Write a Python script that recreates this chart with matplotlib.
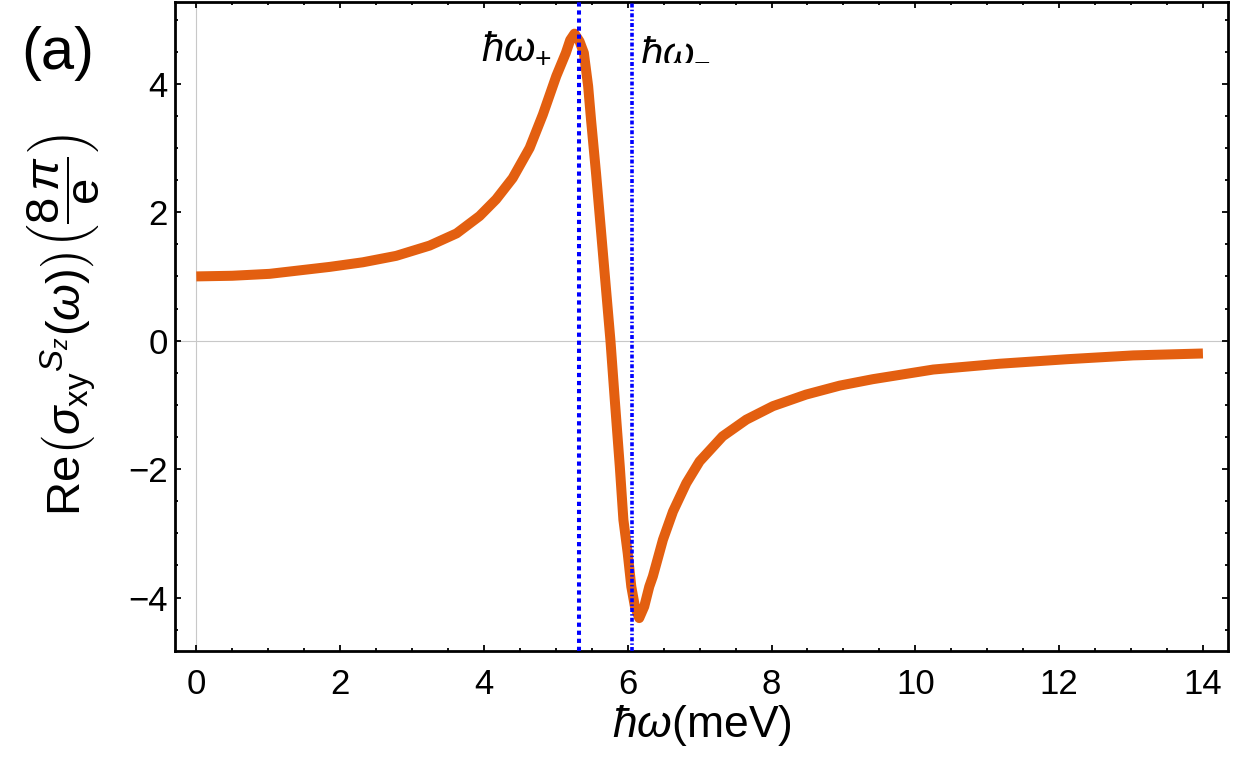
import matplotlib
matplotlib.use("Agg")
import matplotlib.pyplot as plt
from matplotlib.ticker import MultipleLocator

plt.rcParams['font.family'] = ['Liberation Sans', 'DejaVu Sans']
plt.rcParams['mathtext.fontset'] = 'custom'
plt.rcParams['mathtext.rm'] = 'Liberation Sans'
plt.rcParams['mathtext.it'] = 'Liberation Sans:italic'

# curve
w = [0, 0.5, 1.02, 1.854, 2.317, 2.78, 3.245, 3.62, 3.94, 4.17, 4.40, 4.636,
     4.82, 5.007, 5.14, 5.20, 5.26, 5.33, 5.39, 5.45, 5.49, 5.56, 5.66, 5.76,
     5.82, 5.89, 5.94, 6.00, 6.05, 6.10, 6.16, 6.23, 6.30, 6.35, 6.49, 6.63,
     6.815, 7.0, 7.32, 7.65, 8.02, 8.48, 8.95, 9.41, 10.25, 11.17, 12.10, 13.03, 14.0]
sig = [1.00, 1.01, 1.04, 1.148, 1.22, 1.32, 1.48, 1.67, 1.94, 2.20, 2.53, 3.00,
       3.52, 4.12, 4.48, 4.68, 4.78, 4.66, 4.48, 3.96, 3.44, 2.60, 1.30, 0.0,
       -0.92, -1.96, -2.79, -3.31, -3.83, -4.14, -4.32, -4.14, -3.83, -3.67, -3.10, -2.66,
       -2.22, -1.88, -1.49, -1.23, -1.02, -0.84, -0.70, -0.60, -0.45, -0.36, -0.29, -0.23, -0.20]

w_plus = 5.32
w_minus = 6.06

fig = plt.figure(figsize=(12.57, 7.63), dpi=100)
ax = fig.add_axes([0.139, 0.147, 0.838, 0.851])

ax.axhline(0, color='#c8c8c8', lw=0.8, zorder=0)
ax.axvline(0, color='#c8c8c8', lw=0.8, zorder=0)

ax.plot(w, sig, color='#e35f10', lw=7.2, solid_joinstyle='round', solid_capstyle='butt', zorder=3)

ax.axvline(w_plus, color='#0000ff', lw=2.9, ls=(0, (1.05, 0.95)), dash_capstyle='butt', zorder=4)
ax.axvline(w_minus, color='#0000ff', lw=2.6, ls=(0, (1.1, 0.6, 0.4, 0.6)), dash_capstyle='butt', zorder=4)

ax.set_xlim(-0.3, 14.35)
ax.set_ylim(-4.83, 5.28)
ax.xaxis.set_major_locator(MultipleLocator(2))
ax.xaxis.set_minor_locator(MultipleLocator(0.5))
ax.yaxis.set_major_locator(MultipleLocator(2))
ax.yaxis.set_minor_locator(MultipleLocator(0.5))
ax.tick_params(which='both', direction='in', top=True, right=True, width=1.3, labelsize=25)
ax.tick_params(which='major', length=4.5)
ax.tick_params(which='minor', length=2.5)
ax.tick_params(axis='x', pad=12)
ax.tick_params(axis='y', pad=5)
ax.set_yticks([-4, -2, 0, 2, 4])
ax.set_yticklabels(['\u22124', '\u22122', '0', '2', '4'])
for s in ax.spines.values():
    s.set_linewidth(2)

ax.text(4.95, 4.25, r'$\hbar\omega_{+}$', fontsize=29, ha='right', va='bottom')
ax.text(6.17, 4.25, r'$\hbar\omega_{-}$', fontsize=29, ha='left', va='bottom')

ax.set_xlabel(r'$\hbar\omega$(meV)', fontsize=32, labelpad=2)
fig.text(0.05, 0.574, r'Re$\left(\sigma_{\mathrm{xy}}{}^{S_z}(\omega)\right)\left(\dfrac{8\,\pi}{\mathrm{e}}\right)$',
         rotation=90, fontsize=34, ha='center', va='center')
fig.text(0.046, 0.93, '(a)', fontsize=43, ha='center', va='center')

fig.savefig('out.png', dpi=100)
